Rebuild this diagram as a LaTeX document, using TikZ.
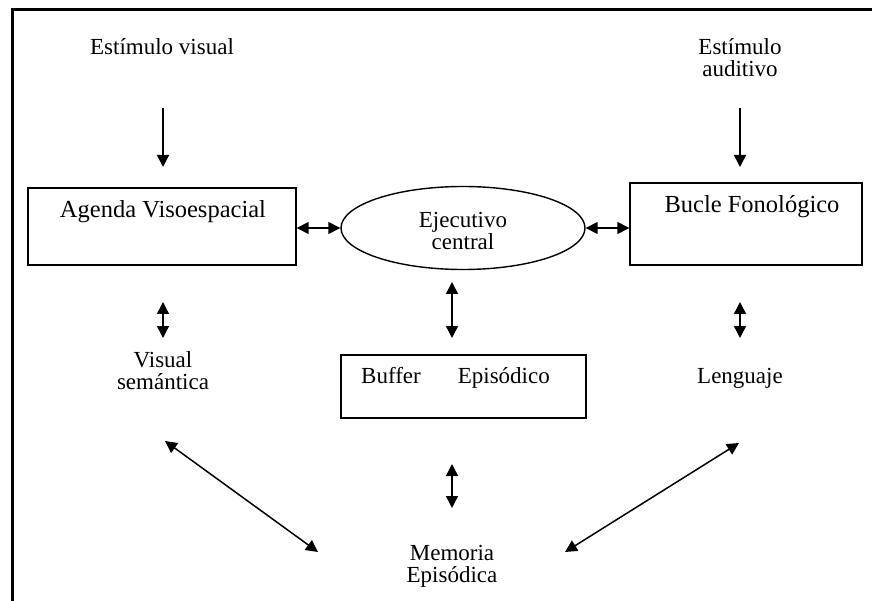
\documentclass[tikz,border=0pt]{standalone}
\usepackage{fontspec}
\setmainfont{Liberation Serif}
\usetikzlibrary{arrows.meta,shapes.geometric}
\begin{document}
\begin{tikzpicture}[x=1pt,y=-1pt,
  lbl/.style={font=\fontsize{23}{23}\selectfont, align=center, inner sep=0pt},
  boxlbl/.style={font=\fontsize{24.5}{25}\selectfont, inner sep=0pt},
  boxnode/.style={draw, line width=1.4pt, inner sep=0pt},
  tip/.style={-{Triangle[width=12pt,length=12pt]}, line width=1.5pt},
  dbl/.style={{Triangle[width=12pt,length=12pt]}-{Triangle[width=12pt,length=12pt]}, line width=1.5pt}]
  \useasboundingbox (0,0) rectangle (872,601);
  % outer frame (top and left edges)
  \draw[line width=3pt] (12,601) -- (12,10) -- (872,10);

  % stimuli
  \node[lbl] (estv) at (162,47) {Estímulo visual};
  \node[lbl] (esta) at (740,58) {Estímulo\\[-1pt]auditivo};

  % main components
  \node[boxnode, minimum width=268pt, minimum height=77pt] (agenda) at (162,226.5) {};
  \node[boxlbl] (agendatxt) at (163,212) {Agenda Visoespacial};
  \node[boxnode, minimum width=232pt, minimum height=82pt] (bucle) at (746,224) {};
  \node[boxlbl] (bucletxt) at (752,207) {Bucle Fonológico};
  \node[draw, ellipse, line width=1.4pt, minimum width=244pt, minimum height=83pt, inner sep=0pt] (ejec) at (463,228) {};
  \node[lbl] (ejectxt) at (463,231) {Ejecutivo\\[-1pt]central};
  \node[boxnode, minimum width=245pt, minimum height=63pt] (buffer) at (463.5,386.5) {};
  \node[boxlbl, font=\fontsize{23}{23}\selectfont] (buftxt) at (455.5,378) {Buffer\hspace{37pt}Episódico};

  % secondary labels
  \node[lbl] (visual) at (163,371) {Visual\\[-1pt]semántica};
  \node[lbl] (leng) at (740,378) {Lenguaje};
  \node[lbl] (memoria) at (452,566) {Memoria\\[-1pt]Episódica};

  % arrow end points
  \coordinate (sv1) at (163,108);  \coordinate (sv2) at (163,167);
  \coordinate (sa1) at (740,108);  \coordinate (sa2) at (740,167);
  \coordinate (av1) at (163,302);  \coordinate (av2) at (163,338);
  \coordinate (bl1) at (740,302);  \coordinate (bl2) at (740,338);
  \coordinate (eb1) at (452,282);  \coordinate (eb2) at (452,338);
  \coordinate (bm1) at (452,464);  \coordinate (bm2) at (452,508);
  \coordinate (vm1) at (165,441);  \coordinate (vm2) at (318,552);
  \coordinate (lm1) at (739,443);  \coordinate (lm2) at (565,552);

  % connectors
  \draw[tip] (sv1) -- (sv2);
  \draw[tip] (sa1) -- (sa2);
  \draw[dbl] (agenda.east |- ejec.west) -- (ejec.west);
  \draw[dbl] (ejec.east) -- (bucle.west |- ejec.east);
  \draw[dbl] (av1) -- (av2);
  \draw[dbl] (bl1) -- (bl2);
  \draw[dbl] (eb1) -- (eb2);
  \draw[dbl] (bm1) -- (bm2);
  \draw[dbl] (vm1) -- (vm2);
  \draw[dbl] (lm1) -- (lm2);
\end{tikzpicture}
\end{document}
